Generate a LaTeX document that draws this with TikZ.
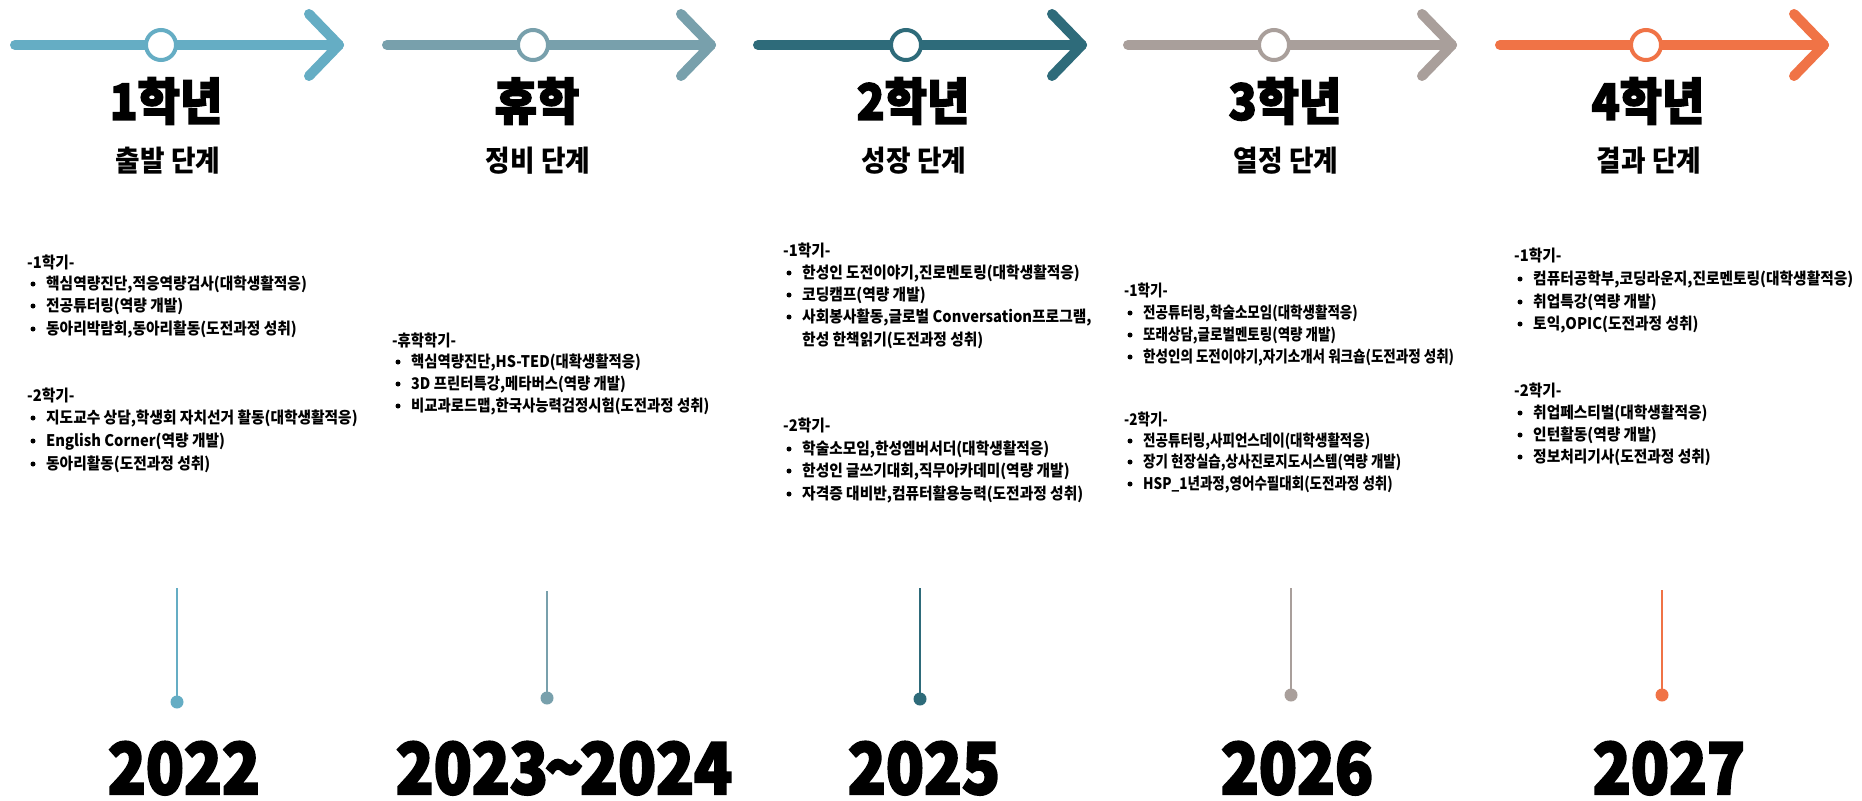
\documentclass[tikz,border=0pt]{standalone}
\usepackage{fontspec}
\newfontfamily\bodyfont{Noto Sans CJK KR}[FakeStretch=0.92]
\newfontfamily\bodyfontN{Noto Sans CJK KR}[FakeStretch=0.845]
\newfontfamily\bodyfontM{Noto Sans CJK KR}[FakeStretch=0.90]
\newfontfamily\titlefont{Noto Sans CJK KR}[FakeStretch=0.92, BoldFeatures={FakeBold=3}]
\newfontfamily\subfont{Noto Sans CJK KR}[FakeStretch=0.92]
\newfontfamily\yearfont{Noto Sans CJK KR}[FakeStretch=0.88, BoldFeatures={FakeBold=3}]
\definecolor{cA}{HTML}{65ADC4}
\definecolor{cB}{HTML}{78A0AC}
\definecolor{cC}{HTML}{2E6B7A}
\definecolor{cD}{HTML}{A99F9B}
\definecolor{cE}{HTML}{F07346}
\tikzset{
  arrowline/.style={line width=10pt, line cap=round, line join=round},
  ring/.style={circle, line width=4pt, fill=white, minimum size=30pt, inner sep=0pt},
  pinline/.style={line width=2pt},
  pindot/.style={circle, minimum size=13pt, inner sep=0pt},
  titletxt/.style={inner sep=0pt, font={\titlefont\bfseries\fontsize{50}{55}\selectfont}},
  subtxt/.style={inner sep=0pt, font={\subfont\bfseries\fontsize{29}{32}\selectfont}},
  yeartxt/.style={inner sep=0pt, font={\yearfont\bfseries\fontsize{71}{74}\selectfont}},
  bodytxt/.style={inner sep=0pt, anchor=base west, font={\bodyfont\bfseries\fontsize{16}{18}\selectfont}},
  narrowtxt/.style={font={\bodyfontN\bfseries\fontsize{16}{18}\selectfont}},
  midtxt/.style={font={\bodyfontM\bfseries\fontsize{16}{18}\selectfont}}
}
\newcommand\kHead[5][]{\node[bodytxt,#1] (#2) at (#3,#4+5.8) {#5};}
\newcommand\kItem[5][]{\fill (#3+6,#4) circle (2.5pt); \node[bodytxt,#1] (#2) at (#3+19,#4+5.8) {#5};}
\begin{document}
\begin{tikzpicture}[x=1pt,y=-1pt]
\useasboundingbox[fill=white] (0,0) rectangle (1862,800);

% ---------- arrows ----------
\foreach \n/\s/\c/\m in {1/15/cA/161, 2/387/cB/533, 3/758/cC/906, 4/1128/cD/1274, 5/1500/cE/1646}{
  \coordinate (as\n) at (\s,45);
  \coordinate (at\n) at (\s+324,45);
  \coordinate (au\n) at (\s+294,14);
  \coordinate (ad\n) at (\s+294,76);
  \draw[arrowline, \c] (as\n) -- (at\n);
  \draw[arrowline, \c] (au\n) -- (at\n) -- (ad\n);
  \node[ring, draw=\c] (m\n) at (\m,45) {};
}

% ---------- titles ----------
\node[titletxt] (t1) at (166,101) {1학년};
\node[titletxt] (t2) at (537,101) {휴학};
\node[titletxt] (t3) at (913,101) {2학년};
\node[titletxt] (t4) at (1285,101) {3학년};
\node[titletxt] (t5) at (1648,101) {4학년};

\node[subtxt] (s1) at (168,161) {출발 단계};
\node[subtxt] (s2) at (538,161) {정비 단계};
\node[subtxt] (s3) at (914,161) {성장 단계};
\node[subtxt] (s4) at (1286,161) {열정 단계};
\node[subtxt] (s5) at (1649,161) {결과 단계};

% ---------- column 1 ----------
\kHead{c1h1}{27}{263}{-1학기-}
\kItem{c1i1}{27}{284}{핵심역량진단,적응역량검사(대학생활적응)}
\kItem{c1i2}{27}{306}{전공튜터링(역량 개발)}
\kItem{c1i3}{27}{329}{동아리박람회,동아리활동(도전과정 성취)}
\kHead{c1h2}{27}{396}{-2학기-}
\kItem{c1i4}{27}{418}{지도교수 상담,학생회 자치선거 활동(대학생활적응)}
\kItem{c1i5}{27}{441}{English Corner(역량 개발)}
\kItem{c1i6}{27}{464}{동아리활동(도전과정 성취)}

% ---------- column 2 ----------
\kHead[midtxt]{c2h1}{392}{341}{-휴학학기-}
\kItem[midtxt]{c2i1}{392}{362}{핵심역량진단,HS-TED(대확생활적응)}
\kItem[midtxt]{c2i2}{392}{384}{3D 프린터특강,메타버스(역량 개발)}
\kItem[midtxt]{c2i3}{392}{406}{비교과로드맵,한국사능력검정시험(도전과정 성취)}

% ---------- column 3 ----------
\kHead{c3h1}{783}{251}{-1학기-}
\kItem{c3i1}{783}{273}{한성인 도전이야기,진로멘토링(대학생활적응)}
\kItem{c3i2}{783}{295}{코딩캠프(역량 개발)}
\kItem{c3i3}{783}{317}{사회봉사활동,글로벌 Conversation프로그램,}
\node[bodytxt] (c3i3b) at (802,345.8) {한성 한책읽기(도전과정 성취)};
\kHead{c3h2}{783}{426}{-2학기-}
\kItem{c3i4}{783}{449}{학술소모임,한성엠버서더(대학생활적응)}
\kItem{c3i5}{783}{471}{한성인 글쓰기대회,직무아카데미(역량 개발)}
\kItem{c3i6}{783}{494}{자격증 대비반,컴퓨터활용능력(도전과정 성취)}

% ---------- column 4 ----------
\kHead[narrowtxt]{c4h1}{1124}{291}{-1학기-}
\kItem[narrowtxt]{c4i1}{1124}{313}{전공튜터링,학술소모임(대학생활적응)}
\kItem[narrowtxt]{c4i2}{1124}{335}{또래상담,글로벌멘토링(역량 개발)}
\kItem[narrowtxt]{c4i3}{1124}{357}{한성인의 도전이야기,자기소개서 워크숍(도전과정 성취)}
\kHead[narrowtxt]{c4h2}{1124}{420}{-2학기-}
\kItem[narrowtxt]{c4i4}{1124}{441}{전공튜터링,사피언스데이(대학생활적응)}
\kItem[narrowtxt]{c4i5}{1124}{462}{장기 현장실습,상사진로지도시스템(역량 개발)}
\kItem[narrowtxt]{c4i6}{1124}{484}{HSP\_1년과정,영어수필대회(도전과정 성취)}

% ---------- column 5 ----------
\kHead{c5h1}{1514}{256}{-1학기-}
\kItem{c5i1}{1514}{279}{컴퓨터공학부,코딩라운지,진로멘토링(대학생활적응)}
\kItem{c5i2}{1514}{302}{취업특강(역량 개발)}
\kItem{c5i3}{1514}{324}{토익,OPIC(도전과정 성취)}
\kHead{c5h2}{1514}{391}{-2학기-}
\kItem{c5i4}{1514}{413}{취업페스티벌(대학생활적응)}
\kItem{c5i5}{1514}{435}{인턴활동(역량 개발)}
\kItem{c5i6}{1514}{457}{정보처리기사(도전과정 성취)}

% ---------- pins ----------
\foreach \n/\x/\t/\d/\c in {1/177/588/702/cA, 2/547/591/698/cB, 3/920/588/699/cC, 4/1291/588/695/cD, 5/1662/590/695/cE}{
  \coordinate (pt\n) at (\x,\t);
  \node[pindot, fill=\c] (pd\n) at (\x,\d) {};
  \draw[pinline, \c] (pt\n) -- (pd\n.center);
}

% ---------- years ----------
\node[yeartxt, anchor=base] (y1) at (184,794) {2022};
\node[yeartxt, anchor=base] (y2) at (564,794) {2023\kern-3pt\char"007E\kern-3pt 2024};
\node[yeartxt, anchor=base] (y3) at (924,794) {2025};
\node[yeartxt, anchor=base] (y4) at (1297,794) {2026};
\node[yeartxt, anchor=base] (y5) at (1669,794) {2027};
\end{tikzpicture}
\end{document}
